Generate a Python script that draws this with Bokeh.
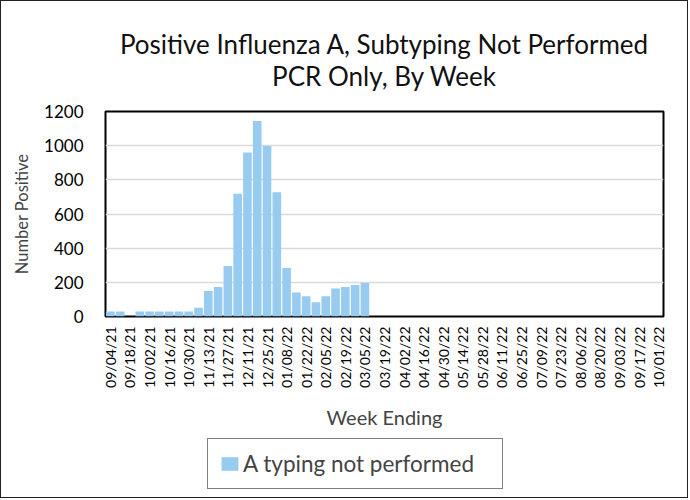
from bokeh.plotting import figure
from bokeh.layouts import column
from bokeh.models import Range1d, Legend, LegendItem, FixedTicker, Div
from bokeh.embed import file_html
from bokeh.resources import INLINE

weeks = ["09/04/21", "09/11/21", "09/18/21", "09/25/21", "10/02/21", "10/09/21", "10/16/21", "10/23/21",
         "10/30/21", "11/06/21", "11/13/21", "11/20/21", "11/27/21", "12/04/21", "12/11/21", "12/18/21",
         "12/25/21", "01/01/22", "01/08/22", "01/15/22", "01/22/22", "01/29/22", "02/05/22", "02/12/22",
         "02/19/22", "02/26/22", "03/05/22", "03/12/22", "03/19/22", "03/26/22", "04/02/22", "04/09/22",
         "04/16/22", "04/23/22", "04/30/22", "05/07/22", "05/14/22", "05/21/22", "05/28/22", "06/04/22",
         "06/11/22", "06/18/22", "06/25/22", "07/02/22", "07/09/22", "07/16/22", "07/23/22", "07/30/22",
         "08/06/22", "08/13/22", "08/20/22", "08/27/22", "09/03/22", "09/10/22", "09/17/22", "09/24/22",
         "10/01/22"]
a_not_performed = [30, 30, 0, 30, 30, 30, 30, 30, 30, 51, 150, 173, 295, 718, 960, 1145, 998, 728, 284,
                   141, 118, 84, 118, 164, 173, 185, 196] + [0] * 30
y_ticks = [0, 200, 400, 600, 800, 1000, 1200]
title_line1 = "Positive Influenza A, Subtyping Not Performed"
title_line2 = "PCR Only, By Week"
series_name = "A typing not performed"

FONT = "Lato"
BAR = "#97CBEF"
W = 686

week_pos = list(range(len(weeks)))

# two-line title, centred over the plot frame
title_div = Div(
    width=W, height=94, margin=0,
    text=(f"<div style='margin-left:104px;width:558px;text-align:center;font-family:Lato;"
          f"font-size:26px;line-height:32px;padding-top:27px;color:#111;white-space:nowrap'>"
          f"{title_line1}<br>{title_line2}</div>"))

p = figure(width=W, height=336, x_range=Range1d(-0.5, len(weeks) - 0.5), y_range=Range1d(0, 1200),
           output_backend="svg", toolbar_location=None, title=None,
           min_border_left=104, min_border_right=24, min_border_top=16, min_border_bottom=107)

r = p.vbar(x=week_pos, top=a_not_performed, width=0.88, fill_color=BAR, line_color=None)

p.outline_line_color = "black"
p.outline_line_width = 2
p.xgrid.grid_line_color = None
p.ygrid.grid_line_color = "#d9d9d9"
p.ygrid.grid_line_width = 1.5

p.yaxis.ticker = FixedTicker(ticks=y_ticks)
p.yaxis.axis_line_color = None
p.yaxis.major_tick_line_color = None
p.yaxis.minor_tick_line_color = None
p.yaxis.major_tick_out = 0
p.yaxis.major_label_standoff = 22
p.yaxis.major_label_text_font = FONT
p.yaxis.major_label_text_font_size = "17px"
p.yaxis.major_label_text_color = "black"
p.yaxis.axis_label = "Number Positive"
p.yaxis.axis_label_text_font = FONT
p.yaxis.axis_label_text_font_size = "16.5px"
p.yaxis.axis_label_text_font_style = "normal"
p.yaxis.axis_label_standoff = 9

p.xaxis.ticker = FixedTicker(ticks=week_pos[::2])
p.xaxis.major_label_overrides = {i: weeks[i] for i in week_pos[::2]}
p.xaxis.axis_line_color = None
p.xaxis.major_tick_line_color = None
p.xaxis.minor_tick_line_color = None
p.xaxis.major_tick_out = 0
p.xaxis.major_label_standoff = 10
p.xaxis.major_label_orientation = 1.5708
p.xaxis.major_label_text_font = FONT
p.xaxis.major_label_text_font_size = "14px"
p.xaxis.major_label_text_color = "black"
p.xaxis.axis_label = "Week Ending"
p.xaxis.axis_label_text_font = FONT
p.xaxis.axis_label_text_font_size = "20px"
p.xaxis.axis_label_text_font_style = "normal"
p.xaxis.axis_label_standoff = 14

# legend strip below the chart; its bars lie far outside its visible ranges, only the legend shows
lf = figure(width=W, height=66, x_range=Range1d(1000, 1001), y_range=Range1d(5000, 5001),
            x_axis_location=None, y_axis_location=None, output_backend="svg",
            toolbar_location=None, title=None, min_border=0)
lf.outline_line_color = None
lf.grid.visible = False
swatch = lf.vbar(x=week_pos, top=a_not_performed, width=0.88, fill_color=BAR, line_color=None)
legend = Legend(items=[LegendItem(label=series_name, renderers=[swatch])],
                location=(102, 8), orientation="horizontal",
                label_text_font=FONT, label_text_font_size="22.5px",
                glyph_width=21, glyph_height=17, border_line_color="black", border_line_width=1.2,
                padding=11, margin=0, label_standoff=3, label_width=248)
lf.add_layout(legend, "center")

layout = column(title_div, p, lf, spacing=0)
layout.styles = {"border": "1.5px solid #222"}

open("out.html", "w").write(file_html(layout, INLINE))
